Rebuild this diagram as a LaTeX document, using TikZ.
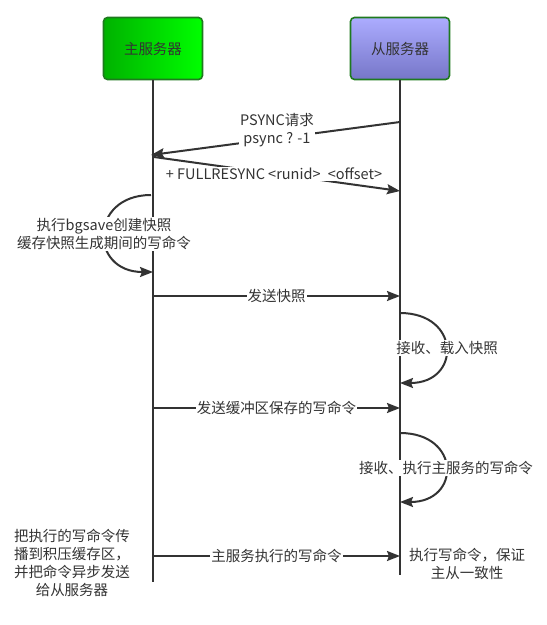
\documentclass[tikz,border=0pt]{standalone}
\usepackage{fontspec}
\setmainfont{Noto Sans CJK SC}
\usetikzlibrary{arrows.meta}
\definecolor{ink}{HTML}{333333}
\definecolor{boxline}{HTML}{1E7A1E}
\tikzset{
	srv/.style={draw=boxline,line width=1.6pt,rounded corners=4pt,minimum width=99pt,minimum height=62pt,inner sep=0pt,text=ink,font=\fontsize{14.5pt}{18pt}\selectfont},
	life/.style={ink,line width=2pt},
	msg/.style={ink,line width=2pt,-{Stealth[length=13pt,width=10pt,inset=2pt]}},
	lbl/.style={fill=white,inner sep=1pt,text=ink,align=center,font=\fontsize{14.5pt}{18pt}\selectfont},
	note/.style={inner sep=0pt,text=ink,align=center,font=\fontsize{14.5pt}{18pt}\selectfont}
}
\begin{document}
\begin{tikzpicture}[x=1pt,y=-1pt]
	\useasboundingbox (0,0) rectangle (547,625);
	\node[srv,left color={rgb,255:red,0;green,178;blue,0},right color={rgb,255:red,0;green,255;blue,0}] (M) at (153,48.5) {主服务器};
	\node[srv,top color={rgb,255:red,172;green,172;blue,255},bottom color={rgb,255:red,118;green,118;blue,200}] (S) at (400,48.5) {从服务器};
	\coordinate (Mend) at (153,582);
	\coordinate (Send) at (400,575);
	\draw[life] (M.south) -- (Mend);
	\draw[life] (S.south) -- (Send);
	% message points on the lifelines
	\coordinate (s1) at (400,122);
	\coordinate (m1) at (151,155);
	\coordinate (m2) at (154,157);
	\coordinate (s2) at (400,191);
	\coordinate (m3) at (151,195);
	\coordinate (m4) at (153,272);
	\coordinate (m5) at (153,296);
	\coordinate (s5) at (400,296);
	\coordinate (s6) at (400,313);
	\coordinate (s7) at (400,383);
	\coordinate (m8) at (153,408);
	\coordinate (s8) at (400,408);
	\coordinate (s9) at (400,433);
	\coordinate (s10) at (400,502);
	\coordinate (m11) at (153,556);
	\coordinate (s11) at (400,556);
	\draw[msg] (s1) -- (m1);
	\node[lbl] (psync) at (277,130) {PSYNC请求\\psync ? -1};
	\draw[msg] (m2) -- (s2);
	\node[lbl] (full) at (274,174) {+ FULLRESYNC <runid>\hspace{0.5em}<offset>};
	\draw[msg] (m3) .. controls (89,195) and (89,272) .. (m4);
	\node[lbl] (bgsave) at (104,234) {执行bgsave创建快照\\缓存快照生成期间的写命令};
	\draw[msg] (m5) -- (s5) node[lbl,midway] (snap) {发送快照};
	\draw[msg] (s6) .. controls (461,313) and (461,383) .. (s7);
	\node[lbl] (load) at (447,348) {接收、载入快照};
	\draw[msg] (m8) -- (s8) node[lbl,midway] (buf) {发送缓冲区保存的写命令};
	\draw[msg] (s9) .. controls (461,433) and (461,502) .. (s10);
	\node[lbl] (exec) at (446,468) {接收、执行主服务的写命令};
	\draw[msg] (m11) -- (s11) node[lbl,midway] (prop) {主服务执行的写命令};
	\node[note] (backlog) at (72,563) {把执行的写命令传\\播到积压缓存区，\\并把命令异步发送\\给从服务器};
	\node[note] (keep) at (467,564) {执行写命令，保证\\主从一致性};
\end{tikzpicture}
\end{document}
